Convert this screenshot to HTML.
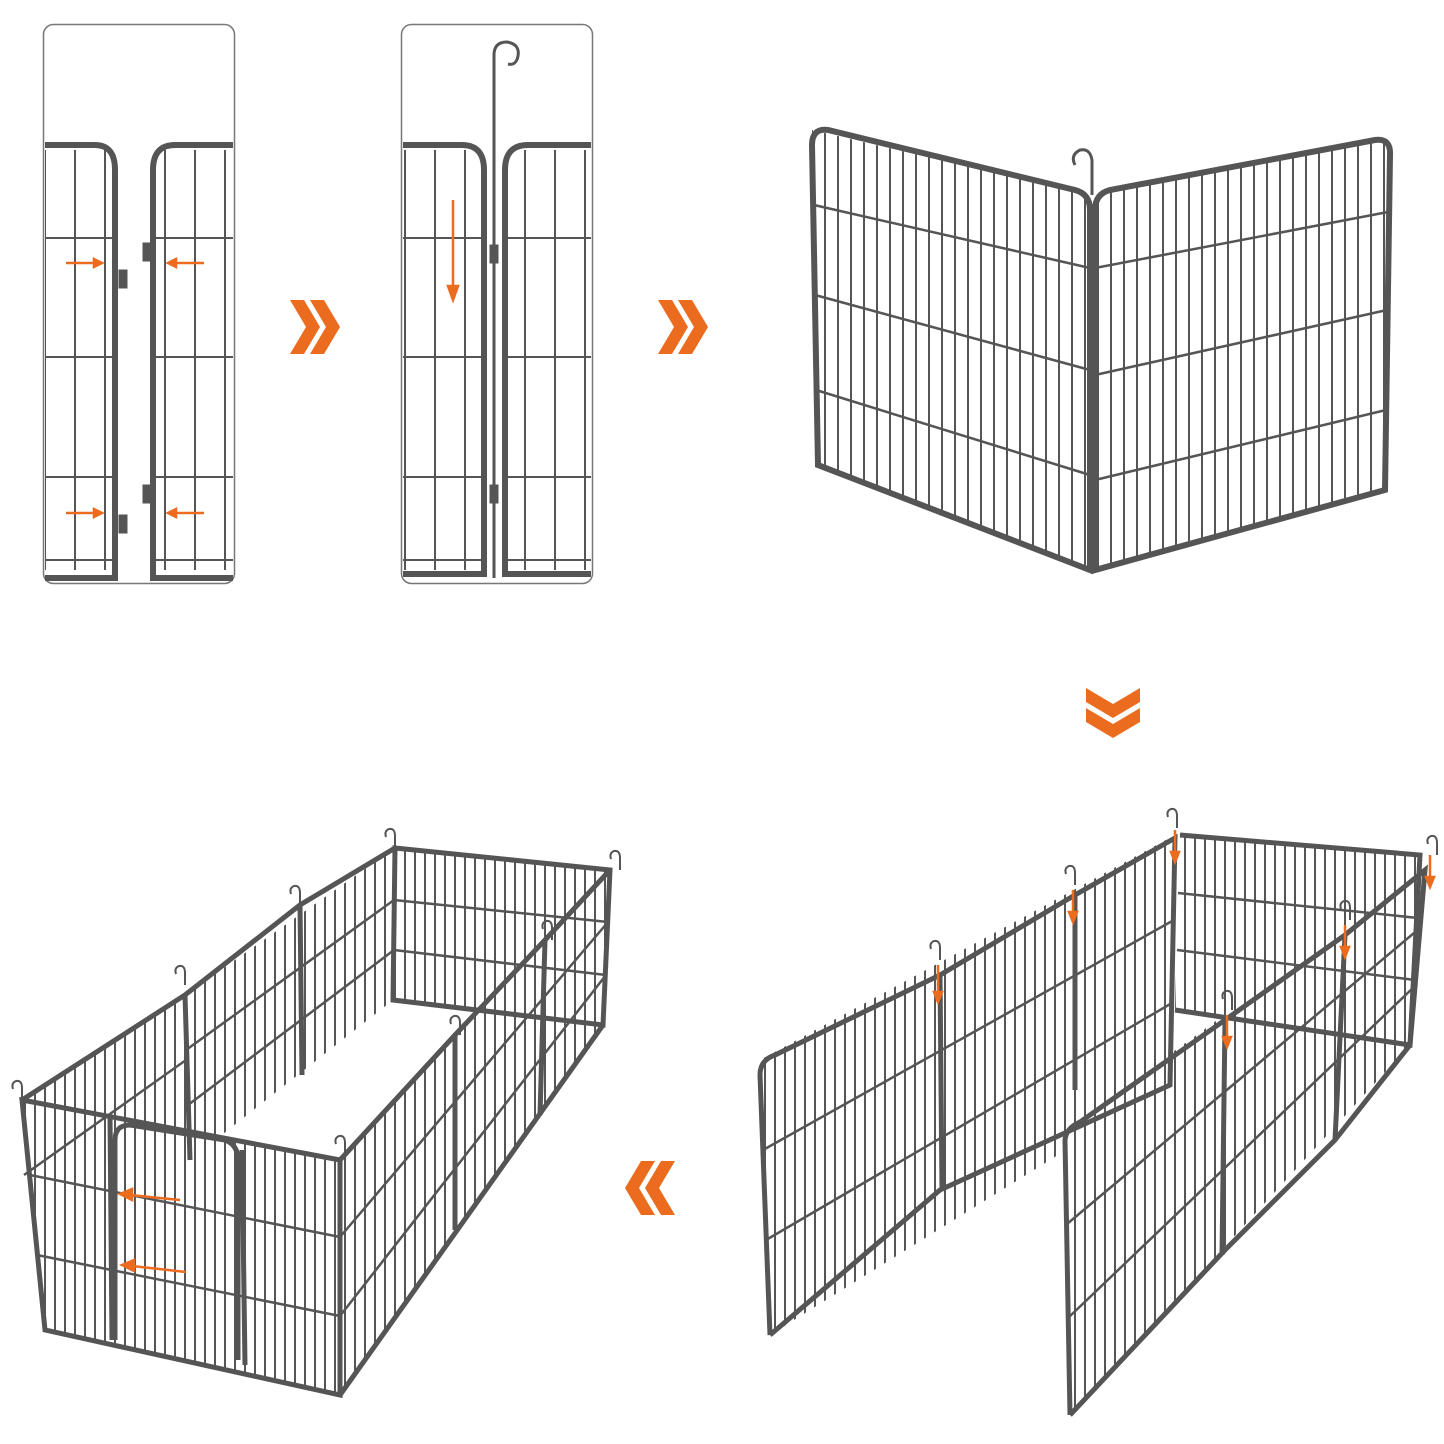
<!DOCTYPE html>
<html><head><meta charset="utf-8"><style>
html,body{margin:0;padding:0;background:#fff;}
svg{display:block}
</style></head><body>
<svg width="1444" height="1444" viewBox="0 0 1444 1444" xmlns="http://www.w3.org/2000/svg">
<defs>
<pattern id="v9" width="10" height="10" patternUnits="userSpaceOnUse"><rect x="4" y="0" width="2" height="10" fill="#555"/></pattern>
<pattern id="v13" width="13" height="10" patternUnits="userSpaceOnUse"><rect x="5" y="0" width="2" height="10" fill="#555"/></pattern>
<pattern id="v30" width="30" height="10" patternUnits="userSpaceOnUse"><rect x="14" y="0" width="2" height="10" fill="#555"/></pattern>
<g id="chev"><polygon points="0,0 14,0 30,27 14,54 0,54 16,27" fill="#ec6c1f"/><polygon points="20,0 34,0 50,27 34,54 20,54 36,27" fill="#ec6c1f"/></g>
<path id="hook" d="M0 0 V-12 Q0 -20 -6 -19 Q-11 -17 -9 -11" fill="none" stroke="#555" stroke-width="2"/>
</defs>
<g fill="none" stroke="#555">
<!-- box 1 -->
<rect x="43.5" y="24.5" width="191" height="559" rx="10" stroke="#777" stroke-width="1.5"/>
<rect x="45" y="150" width="70" height="420" fill="url(#v30)" stroke="none"/>
<rect x="155" y="150" width="78" height="420" fill="url(#v30)" stroke="none"/>
<path d="M45 145 H95 Q115 145 115 170 V578 H45" stroke-width="6"/>
<path d="M233 145 H175 Q153 145 153 170 V578 H233" stroke-width="6"/>
<g stroke-width="2"><line x1="45" y1="238" x2="113" y2="238"/><line x1="45" y1="357" x2="113" y2="357"/><line x1="45" y1="477" x2="113" y2="477"/><line x1="45" y1="560" x2="113" y2="560"/>
<line x1="156" y1="238" x2="233" y2="238"/><line x1="156" y1="357" x2="233" y2="357"/><line x1="156" y1="477" x2="233" y2="477"/><line x1="156" y1="560" x2="233" y2="560"/></g>
<rect x="119" y="270" width="8" height="18" fill="#555"/><rect x="119" y="515" width="8" height="18" fill="#555"/>
<rect x="143" y="243" width="8" height="18" fill="#555"/><rect x="143" y="485" width="8" height="18" fill="#555"/>
<!-- box 2 -->
<rect x="401.5" y="24.5" width="191" height="559" rx="10" stroke="#777" stroke-width="1.5"/>
<rect x="403" y="150" width="80" height="420" fill="url(#v30)" stroke="none"/>
<rect x="510" y="150" width="82" height="420" fill="url(#v30)" stroke="none"/>
<path d="M403 145 H462 Q484 145 484 170 V574 H403" stroke-width="6"/>
<path d="M591 145 H528 Q505 145 505 170 V574 H591" stroke-width="6"/>
<g stroke-width="2"><line x1="403" y1="238" x2="482" y2="238"/><line x1="403" y1="357" x2="482" y2="357"/><line x1="403" y1="477" x2="482" y2="477"/><line x1="403" y1="560" x2="482" y2="560"/>
<line x1="507" y1="238" x2="591" y2="238"/><line x1="507" y1="357" x2="591" y2="357"/><line x1="507" y1="477" x2="591" y2="477"/><line x1="507" y1="560" x2="591" y2="560"/></g>
<path d="M494 578 V55 Q494 42 507 42 Q520 44 518 56 Q516 66 508 64" stroke-width="3"/>
<rect x="490" y="245" width="8" height="18" fill="#555"/><rect x="490" y="485" width="8" height="18" fill="#555"/>
<!-- top right fence -->
<polygon points="812,130 1090,195 1090,570 818,465" fill="url(#v13)" stroke="none"/>
<polygon points="1095,195 1390,140 1385,490 1095,570" fill="url(#v13)" stroke="none"/>
<path d="M818,465 L812,145 Q812,128 828,130 L1075,190 Q1090,194 1090,210 L1090,570 Z" stroke-width="6"/>
<path d="M1095,570 L1095,210 Q1095,194 1110,190 L1375,140 Q1391,138 1390,155 L1385,490 Z" stroke-width="6"/>
<g stroke-width="2.5"><line x1="814" y1="205" x2="1090" y2="268"/><line x1="815" y1="295" x2="1090" y2="370"/><line x1="816" y1="390" x2="1090" y2="475"/>
<line x1="1095" y1="268" x2="1388" y2="212"/><line x1="1095" y1="375" x2="1387" y2="310"/><line x1="1095" y1="480" x2="1386" y2="410"/></g>
<path d="M1092 195 V160 Q1090 148 1080 150 Q1070 155 1075 165" stroke-width="3"/>
<!-- bottom left pen -->
<polygon points="395,848 610,870 603,1025 393,1000" fill="url(#v9)" stroke="none"/>
<polygon points="185,995 395,848 393,1000 190,1160" fill="url(#v9)" stroke="none"/>
<polygon points="340,1160 610,870 603,1025 340,1395" fill="url(#v9)" stroke="none"/>
<polygon points="22,1100 340,1160 340,1395 45,1330" fill="url(#v9)" stroke="none"/>
<polygon points="22,1100 185,995 190,1160 45,1330" fill="url(#v9)" stroke="none"/>
<g stroke-width="2.5">
<line x1="394" y1="900" x2="608" y2="922"/><line x1="394" y1="950" x2="606" y2="975"/>
<line x1="186" y1="1050" x2="394" y2="900"/><line x1="188" y1="1105" x2="394" y2="950"/>
<line x1="30" y1="1175" x2="340" y2="1237"/><line x1="37" y1="1255" x2="340" y2="1316"/>
<line x1="340" y1="1237" x2="608" y2="922"/><line x1="340" y1="1316" x2="606" y2="975"/>
<line x1="24" y1="1175" x2="186" y2="1060"/>
</g>
<g stroke-width="5">
<path d="M395,848 L610,870 L603,1025 L393,1000 Z"/>
<path d="M22,1100 L185,995 L300,905 L395,848"/>
<line x1="185" y1="995" x2="190" y2="1160"/><line x1="300" y1="905" x2="302" y2="1075"/>
<path d="M340,1160 L455,1035 L545,940 L610,870"/><line x1="455" y1="1035" x2="455" y2="1230"/><line x1="545" y1="940" x2="540" y2="1115"/>
<path d="M22,1100 L340,1160 L340,1395 L45,1330 Z"/><line x1="340" y1="1395" x2="603" y2="1025"/>
<path d="M115,1340 V1140 Q115,1125 130,1125 L225,1140 Q238,1145 238,1160 V1360"/>
<line x1="110" y1="1115" x2="112" y2="1340"/><line x1="242" y1="1150" x2="245" y2="1365"/>
</g>
<use href="#hook" x="395" y="848"/><use href="#hook" x="300" y="905"/><use href="#hook" x="185" y="985"/>
<use href="#hook" x="22" y="1100"/><use href="#hook" x="620" y="870"/><use href="#hook" x="552" y="940"/>
<use href="#hook" x="460" y="1035"/><use href="#hook" x="345" y="1155"/>
<!-- bottom right -->
<polygon points="1180,835 1420,855 1410,1045 1175,1010" fill="url(#v9)" stroke="none"/>
<polygon points="760,1060 1175,835 1170,1085 770,1335" fill="url(#v9)" stroke="none"/>
<polygon points="1065,1130 1425,870 1410,1045 1070,1415" fill="url(#v9)" stroke="none"/>
<g stroke-width="2.5">
<line x1="1178" y1="893" x2="1418" y2="918"/><line x1="1177" y1="950" x2="1415" y2="980"/>
<line x1="763" y1="1150" x2="1174" y2="920"/><line x1="766" y1="1240" x2="1172" y2="1003"/>
<line x1="1067" y1="1224" x2="1420" y2="928"/><line x1="1068" y1="1318" x2="1415" y2="986"/>
</g>
<g stroke-width="5">
<path d="M1180,835 L1420,855 L1410,1045 L1175,1010"/>
<path d="M770,1335 L760,1075 Q760,1060 775,1055 L940,975 L1075,895 L1175,838 L1170,1085 L940,1190 L770,1335"/>
<line x1="940" y1="975" x2="942" y2="1190"/><line x1="1075" y1="895" x2="1075" y2="1090"/>
<path d="M1070,1415 L1065,1140 Q1066,1128 1080,1122 L1225,1020 L1345,935 L1425,870 L1410,1045 L1335,1140 L1225,1250 L1070,1415"/>
<line x1="1225" y1="1020" x2="1222" y2="1255"/><line x1="1345" y1="935" x2="1335" y2="1140"/>
</g>
<use href="#hook" x="940" y="960"/><use href="#hook" x="1075" y="885"/><use href="#hook" x="1177" y="828"/>
<use href="#hook" x="1437" y="855"/><use href="#hook" x="1350" y="920"/><use href="#hook" x="1232" y="1010"/>
</g>
<!-- orange arrows -->
<g stroke="#ec6c1f" stroke-width="2.5" fill="#ec6c1f">
<line x1="66" y1="263" x2="96" y2="263"/><polygon points="102,263 94,259 94,267"/>
<line x1="66" y1="513" x2="96" y2="513"/><polygon points="102,513 94,509 94,517"/>
<line x1="204" y1="263" x2="174" y2="263"/><polygon points="168,263 176,259 176,267"/>
<line x1="204" y1="513" x2="174" y2="513"/><polygon points="168,513 176,509 176,517"/>
<line x1="453" y1="200" x2="453" y2="290"/><polygon points="453,300 448,286 458,286"/>
<line x1="180" y1="1200" x2="130" y2="1195"/><polygon points="120,1194 132,1189 132,1200"/>
<line x1="186" y1="1272" x2="132" y2="1266"/><polygon points="122,1265 134,1260 134,1271"/>
<line x1="938" y1="965" x2="938" y2="995"/><polygon points="938,1002 934,992 942,992"/>
<line x1="1073" y1="890" x2="1073" y2="915"/><polygon points="1073,922 1069,912 1077,912"/>
<line x1="1175" y1="830" x2="1175" y2="855"/><polygon points="1175,862 1171,852 1179,852"/>
<line x1="1430" y1="855" x2="1430" y2="880"/><polygon points="1430,887 1426,877 1434,877"/>
<line x1="1345" y1="925" x2="1345" y2="950"/><polygon points="1345,957 1341,947 1349,947"/>
<line x1="1227" y1="1015" x2="1227" y2="1040"/><polygon points="1227,1047 1223,1037 1231,1037"/>
</g>
<use href="#chev" x="290" y="300"/>
<use href="#chev" x="658" y="300"/>
<g transform="translate(1083,688) rotate(90) translate(0,-57)"><use href="#chev"/></g>
<g transform="translate(675,1215) rotate(180)"><use href="#chev"/></g>
</svg>
</body></html>
